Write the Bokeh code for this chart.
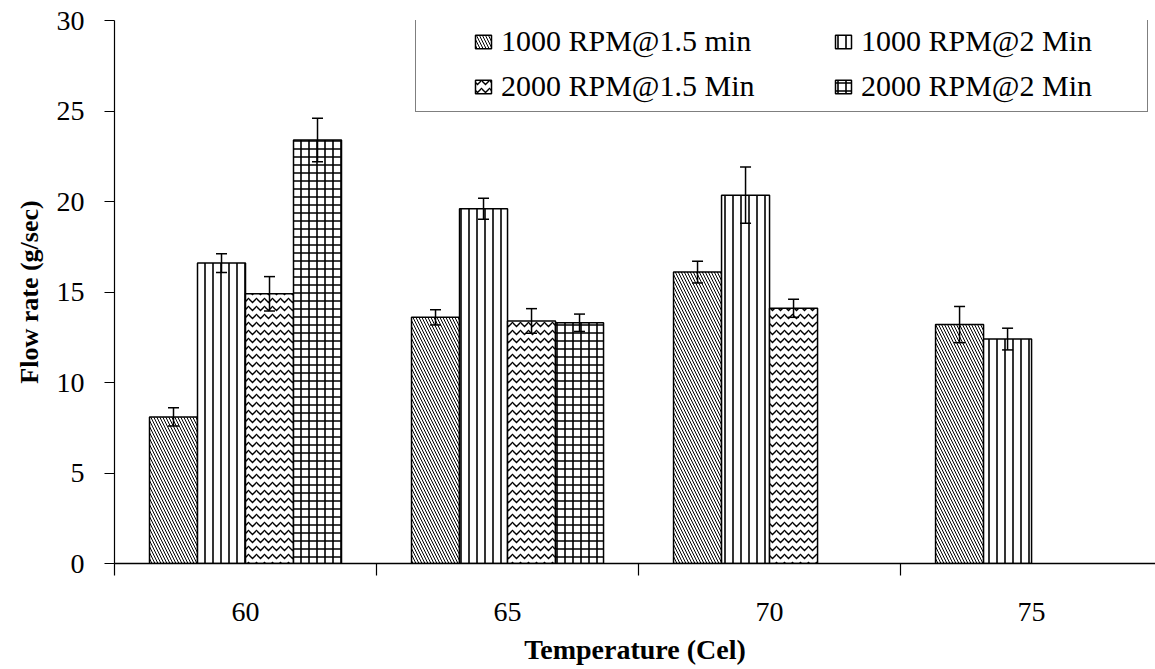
from bokeh.plotting import figure
from bokeh.models import (Range1d, FixedTicker, ColumnDataSource, Whisker, TeeHead,
                          Legend, LegendItem)
from bokeh.embed import file_html
from bokeh.resources import INLINE

# ---- data ----
temperatures = ["60", "65", "70", "75"]
series_names = ["1000 RPM@1.5 min", "1000 RPM@2 Min", "2000 RPM@1.5 Min", "2000 RPM@2 Min"]
flow_1000_15 = [8.1, 13.6, 16.1, 13.2]
err_1000_15 = [0.5, 0.42, 0.6, 1.0]
flow_1000_2 = [16.6, 19.6, 20.35, 12.4]
err_1000_2 = [0.52, 0.58, 1.55, 0.6]
flow_2000_15 = [14.9, 13.4, 14.1, None]
err_2000_15 = [0.95, 0.68, 0.5, None]
flow_2000_2 = [23.4, 13.3, None, None]
err_2000_2 = [1.2, 0.48, None, None]
y_ticks = [0, 5, 10, 15, 20, 25, 30]

series_values = [flow_1000_15, flow_1000_2, flow_2000_15, flow_2000_2]
series_errors = [err_1000_15, err_1000_2, err_2000_15, err_2000_2]
hatches = ["\\", "|", "v", "+"]
hatch_scales = [6, 8, 8, 8]
hatch_weights = [1.0, 1.6, 1.4, 1.6]

FONT = "Liberation Serif"

p = figure(width=1155, height=669, output_backend="svg", toolbar_location=None,
           x_range=Range1d(-0.5, 3.473), y_range=Range1d(0, 30),
           min_border_left=114, min_border_top=20, min_border_bottom=106,
           min_border_right=0, background_fill_color="white",
           border_fill_color="white")
p.outline_line_color = None
p.grid.visible = False

bar_w = 0.1832
renderers = []
for k, (vals, errs) in enumerate(zip(series_values, series_errors)):
    xs, tops, ups, los = [], [], [], []
    for i, (v, e) in enumerate(zip(vals, errs)):
        if v is None:
            continue
        xs.append(i + (k - 1.5) * bar_w)
        tops.append(v)
        ups.append(v + e)
        los.append(v - e)
    src = ColumnDataSource(dict(x=xs, top=tops, upper=ups, lower=los))
    r = p.vbar(x="x", top="top", bottom=0, width=bar_w, source=src,
               fill_color="white", line_color="black", line_width=1.5,
               hatch_pattern=hatches[k], hatch_color="black",
               hatch_scale=hatch_scales[k], hatch_weight=hatch_weights[k])
    renderers.append(r)
    w = Whisker(source=src, base="x", upper="upper", lower="lower",
                line_color="black", line_width=1.5, level="overlay",
                upper_head=TeeHead(size=11, line_width=1.5, line_color="black"),
                lower_head=TeeHead(size=11, line_width=1.5, line_color="black"))
    p.add_layout(w)

# ---- axes ----
xa = p.xaxis[0]
xa.ticker = FixedTicker(ticks=[0, 1, 2, 3], minor_ticks=[-0.5, 0.5, 1.5, 2.5, 3.5])
xa.major_label_overrides = {i: t for i, t in enumerate(temperatures)}
xa.major_tick_out = 0
xa.major_tick_in = 0
xa.minor_tick_out = 12
xa.minor_tick_in = 0
xa.minor_tick_line_color = "black"
xa.minor_tick_line_width = 1.2
xa.axis_line_color = "black"
xa.axis_line_width = 1.5
xa.major_label_text_font = FONT
xa.major_label_text_font_size = "28px"
xa.major_label_text_color = "black"
xa.major_label_standoff = 27
xa.axis_label = "Temperature (Cel)"
xa.axis_label_text_font = FONT
xa.axis_label_text_font_style = "bold"
xa.axis_label_text_font_size = "28px"
xa.axis_label_text_color = "black"
xa.axis_label_standoff = 10

ya = p.yaxis[0]
ya.ticker = FixedTicker(ticks=y_ticks)
ya.major_tick_out = 10
ya.major_tick_in = 0
ya.minor_tick_out = 0
ya.minor_tick_in = 0
ya.major_tick_line_color = "black"
ya.major_tick_line_width = 1.2
ya.axis_line_color = "black"
ya.axis_line_width = 1.2
ya.major_label_text_font = FONT
ya.major_label_text_font_size = "28px"
ya.major_label_text_color = "black"
ya.major_label_standoff = 20
ya.axis_label = "Flow rate (g/sec)"
ya.axis_label_text_font = FONT
ya.axis_label_text_font_style = "bold"
ya.axis_label_text_font_size = "26px"
ya.axis_label_text_color = "black"
ya.axis_label_standoff = 10

# ---- legend: frame box + two columns ----
dummy = p.vbar(x=[], top=[], width=0.1, fill_alpha=0, line_alpha=0)
box = Legend(items=[LegendItem(label=" ", renderers=[dummy])],
             location=(301, 451), padding=0, spacing=0, margin=0,
             glyph_width=1, glyph_height=1, label_standoff=0,
             label_width=730, label_height=99,
             border_line_color="black", border_line_width=1.2,
             background_fill_color="white", background_fill_alpha=1.0)
p.add_layout(box)

common = dict(padding=0, spacing=11, margin=0, glyph_width=20, glyph_height=17,
              label_standoff=8, label_height=33, border_line_color=None,
              background_fill_alpha=0.0, label_text_font=FONT,
              label_text_font_size="30px", label_text_color="black")
col1 = Legend(items=[LegendItem(label=series_names[0], renderers=[renderers[0]]),
                     LegendItem(label=series_names[2], renderers=[renderers[2]])],
              location=(359, 460), **common)
col2 = Legend(items=[LegendItem(label=series_names[1], renderers=[renderers[1]]),
                     LegendItem(label=series_names[3], renderers=[renderers[3]])],
              location=(719, 460), **common)
p.add_layout(col1)
p.add_layout(col2)

open("out.html", "w").write(file_html(p, INLINE))
